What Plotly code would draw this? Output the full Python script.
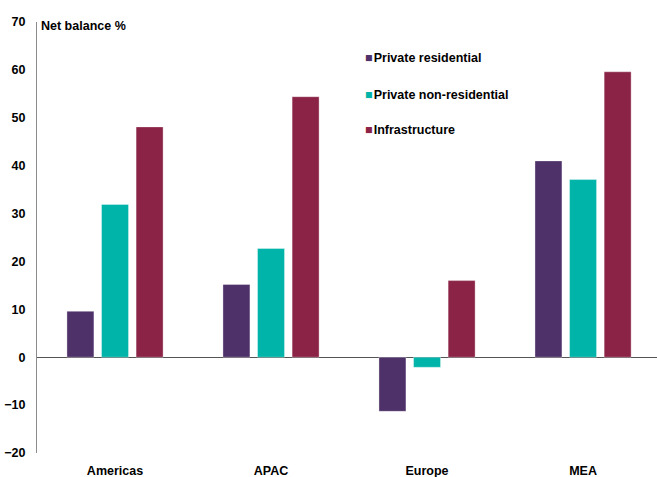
import plotly.graph_objects as go

regions = ["Americas", "APAC", "Europe", "MEA"]
series_names = ["Private residential", "Private non-residential", "Infrastructure"]
private_residential = [9.6, 15.2, -11.3, 41.0]
private_non_residential = [31.9, 22.7, -2.1, 37.1]
infrastructure = [48.1, 54.4, 16.0, 59.6]
y_ticks = [-20, -10, 0, 10, 20, 30, 40, 50, 60, 70]

colors = ["#4E3169", "#00B4A9", "#8A2346"]
values = [private_residential, private_non_residential, infrastructure]

fig = go.Figure()
for name, vals, col in zip(series_names, values, colors):
    fig.add_trace(go.Bar(
        x=regions, y=vals, name=name,
        marker=dict(color=col, line=dict(color="rgba(255,255,255,0.35)", width=1)),
        showlegend=False,
    ))

FONT = "Liberation Sans, Arial, sans-serif"

fig.update_layout(
    width=657, height=477,
    margin=dict(l=37, r=0, t=22, b=24),
    paper_bgcolor="white", plot_bgcolor="white",
    barmode="group", bargap=0.335, bargroupgap=0.22,
    font=dict(family=FONT, size=12.5, color="black"),
    xaxis=dict(
        range=[-0.5, 3.474], showline=False, showgrid=False, ticks="",
        tickfont=dict(family=FONT, size=12.5, color="black", weight="bold"),
        ticklabelstandoff=8, automargin=False,
    ),
    yaxis=dict(
        range=[-20, 70], tickvals=y_ticks, showgrid=False, ticks="",
        showline=True, linecolor="#8c8c8c", linewidth=1,
        zeroline=True, zerolinecolor="#555555", zerolinewidth=1,
        tickfont=dict(family=FONT, size=12.5, color="black", weight="bold"),
        ticklabelstandoff=8, automargin=False,
    ),
)

fig.add_annotation(
    text="<b>Net balance %</b>", xref="paper", yref="paper",
    x=0, y=0.991, xanchor="left", yanchor="middle", xshift=2,
    showarrow=False, font=dict(family=FONT, size=12.5, color="black"),
)

legend_y = [0.917, 0.831, 0.750]
for name, col, ly in zip(series_names, colors, legend_y):
    fig.add_annotation(
        text=f"<span style='color:{col}'>■</span><span style='font-size:4px'> </span><b>{name}</b>",
        xref="paper", yref="paper", x=0.526, y=ly,
        xanchor="left", yanchor="middle", showarrow=False,
        font=dict(family=FONT, size=12.5, color="black"),
    )

fig.write_html("out.html", config={"displayModeBar": False},
               post_script="document.body.style.margin='0';")
